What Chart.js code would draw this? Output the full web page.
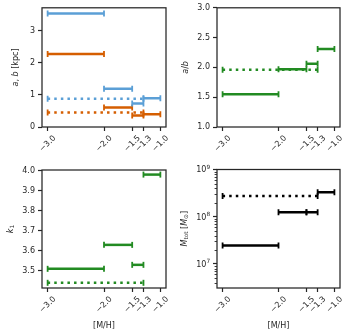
<!DOCTYPE html>
<html>
<head>
<meta charset="utf-8">
<script src="https://cdn.jsdelivr.net/npm/chart.js@4/dist/chart.umd.min.js"></script>
<style>
  body { margin: 0; background: #fff; }
  canvas { position: absolute; }
</style>
</head>
<body>
<canvas id="c1" width="175" height="160" style="left:0;top:0"></canvas>
<canvas id="c2" width="174" height="160" style="left:175px;top:0"></canvas>
<canvas id="c3" width="175" height="176" style="left:0;top:160px"></canvas>
<canvas id="c4" width="174" height="176" style="left:175px;top:160px"></canvas>
<script>
// metallicity bins: [-3,-2], [-2,-1.5], [-1.5,-1.3], [-1.3,-1.0]
const binEdges = [-3.0, -2.0, -1.5, -1.3, -1.0];
const allRange = [-3.0, -1.3];
const xTicks = [-3.0, -2.0, -1.5, -1.3, -1.0];

const aValues = [3.54, 1.19, 0.73, 0.90];
const bValues = [2.28, 0.61, 0.36, 0.40];
const aAll = 0.88;
const bAll = 0.45;

const abValues = [1.55, 1.97, 2.06, 2.31];
const abAll = 1.96;

const k1Values = [3.51, 3.63, 3.53, 3.982];
const k1All = 3.44;

const mtotValues = [2.45e7, 1.25e8, 1.25e8, 3.3e8];
const mtotAll = 2.75e8;

const yTicks1 = [0, 1, 2, 3];
const yTicks2 = [1.0, 1.5, 2.0, 2.5, 3.0];
const yTicks3 = [3.5, 3.6, 3.7, 3.8, 3.9, 4.0];
const yTicks4 = [1e7, 1e8, 1e9];

const ink = '#262626';
const blue = '#5b9fd6';
const orange = '#d55e00';
const green = '#228b22';
const tickFont = {family: 'DejaVu Sans', size: 8};

const fmt = (v, d) => (v < 0 ? '\u2212' : '') + Math.abs(v).toFixed(d);

function segs(values, color) {
  return values.map((v, i) => ({
    data: [{x: binEdges[i], y: v}, {x: binEdges[i + 1], y: v}],
    borderColor: color,
    borderWidth: 2.5,
    pointStyle: 'line',
    pointRotation: 90,
    pointRadius: 3,
    pointBorderWidth: 1.8,
    pointBorderColor: color
  }));
}

function allSeg(v, color) {
  return {
    data: [{x: allRange[0], y: v}, {x: allRange[1], y: v}],
    borderColor: color,
    borderWidth: 2.5,
    borderDash: [2.5, 4.1],
    pointStyle: 'line',
    pointRotation: 90,
    pointRadius: 3,
    pointBorderWidth: 1.8,
    pointBorderColor: color
  };
}

function framePlugin(title, titleX, log) {
  return {
    id: 'frame',
    afterDraw(chart) {
      const {ctx, chartArea: a} = chart;
      ctx.save();
      ctx.strokeStyle = ink;
      ctx.lineWidth = 1.25;
      ctx.strokeRect(a.left, a.top, a.right - a.left, a.bottom - a.top);

      if (log) {
        const s = chart.scales.y;
        // minor ticks
        ctx.lineWidth = 0.9;
        for (let e = 6; e <= 8; e++) {
          for (let m = 2; m <= 9; m++) {
            const v = m * Math.pow(10, e);
            if (v < s.min || v > s.max) continue;
            const p = Math.round(s.getPixelForValue(v)) + 0.5;
            ctx.beginPath();
            ctx.moveTo(a.left, p);
            ctx.lineTo(a.left - 2.4, p);
            ctx.stroke();
          }
        }
        // 10^n labels
        ctx.fillStyle = ink;
        ctx.textBaseline = 'alphabetic';
        ctx.textAlign = 'left';
        yTicks4.forEach(v => {
          const p = s.getPixelForValue(v);
          const ex = String(Math.round(Math.log10(v)));
          ctx.font = '8px "DejaVu Sans"';
          const w1 = ctx.measureText('10').width;
          ctx.font = '5.8px "DejaVu Sans"';
          const w2 = ctx.measureText(ex).width;
          const x0 = a.left - 7 - w1 - w2;
          ctx.font = '8px "DejaVu Sans"';
          ctx.fillText('10', x0, p + 2.9);
          ctx.font = '5.8px "DejaVu Sans"';
          ctx.fillText(ex, x0 + w1 + 0.3, p - 0.8);
        });
      }

      // y axis title with italic / subscript parts
      ctx.translate(titleX, (a.top + a.bottom) / 2);
      ctx.rotate(-Math.PI / 2);
      ctx.fillStyle = ink;
      ctx.textAlign = 'left';
      ctx.textBaseline = 'alphabetic';
      const fontOf = s => (s.i ? 'italic ' : '') + (s.sub ? '5.8px' : '8px') + ' "DejaVu Sans"';
      let total = 0;
      title.forEach(s => { ctx.font = fontOf(s); s.w = ctx.measureText(s.t).width; total += s.w; });
      let u = -total / 2;
      title.forEach(s => {
        ctx.font = fontOf(s);
        ctx.fillText(s.t, u, s.sub ? 4.8 : 3);
        u += s.w;
      });
      ctx.restore();
    }
  };
}

function makeChart(id, datasets, o) {
  const grid = {
    display: true, drawOnChartArea: false, drawTicks: true,
    tickLength: 4, tickWidth: 1.2, tickColor: ink
  };
  return new Chart(document.getElementById(id), {
    type: 'line',
    data: {datasets},
    options: {
      responsive: false,
      animation: false,
      devicePixelRatio: 1,
      layout: {padding: {top: o.top, right: 9, bottom: 0, left: 0}},
      plugins: {legend: {display: false}, tooltip: {enabled: false}},
      scales: {
        x: {
          type: 'linear', min: -3.1, max: -0.9,
          afterBuildTicks: s => { s.ticks = xTicks.map(v => ({value: v})); },
          afterFit: s => { s.height = o.xh; },
          ticks: {
            autoSkip: false, minRotation: 45, maxRotation: 45,
            padding: 2.5, labelOffset: 7, color: ink, font: tickFont,
            callback: v => fmt(v, 1)
          },
          grid, border: {display: false},
          title: {
            display: !!o.xTitle, text: o.xTitle || '', color: ink,
            font: {family: 'DejaVu Sans', size: 8}, padding: {top: 0, bottom: 5.5}
          }
        },
        y: {
          type: o.log ? 'logarithmic' : 'linear', min: o.ymin, max: o.ymax,
          afterBuildTicks: s => { s.ticks = o.yTicks.map(v => ({value: v})); },
          afterFit: s => { s.width = 42; },
          ticks: {padding: 3, color: ink, font: tickFont, callback: o.yFmt},
          grid, border: {display: false}
        }
      }
    },
    plugins: [framePlugin(o.yTitle, o.titleX, o.log)]
  });
}

makeChart('c1', [...segs(aValues, blue), allSeg(aAll, blue), ...segs(bValues, orange), allSeg(bAll, orange)], {
  top: 7, xh: 33, ymin: 0, ymax: 3.72, yTicks: yTicks1, yFmt: v => String(v),
  yTitle: [{t: 'a', i: true}, {t: ', '}, {t: 'b', i: true}, {t: ' [kpc]'}], titleX: 15
});

makeChart('c2', [...segs(abValues, green), allSeg(abAll, green)], {
  top: 7, xh: 33, ymin: 1.0, ymax: 3.0, yTicks: yTicks2, yFmt: v => v.toFixed(1),
  yTitle: [{t: 'a', i: true}, {t: '/'}, {t: 'b', i: true}], titleX: 9.5
});

makeChart('c3', [...segs(k1Values, green), allSeg(k1All, green)], {
  top: 10, xh: 48, ymin: 3.414, ymax: 4.005, yTicks: yTicks3, yFmt: v => v.toFixed(1),
  xTitle: '[M/H]',
  yTitle: [{t: 'k', i: true}, {t: '1', sub: true}], titleX: 9.5
});

// labels for the log axis are drawn by framePlugin (10 with a raised exponent)
makeChart('c4', [...segs(mtotValues, 'black'), allSeg(mtotAll, 'black')], {
  top: 9.5, xh: 48, ymin: 3.1e6, ymax: 1e9, yTicks: yTicks4, log: true,
  yFmt: () => '',
  xTitle: '[M/H]',
  yTitle: [{t: 'M', i: true}, {t: 'tot', sub: true}, {t: ' ['}, {t: 'M', i: true}, {t: '\u2299', sub: true}, {t: ']'}],
  titleX: 8.5
});
</script>
</body>
</html>
